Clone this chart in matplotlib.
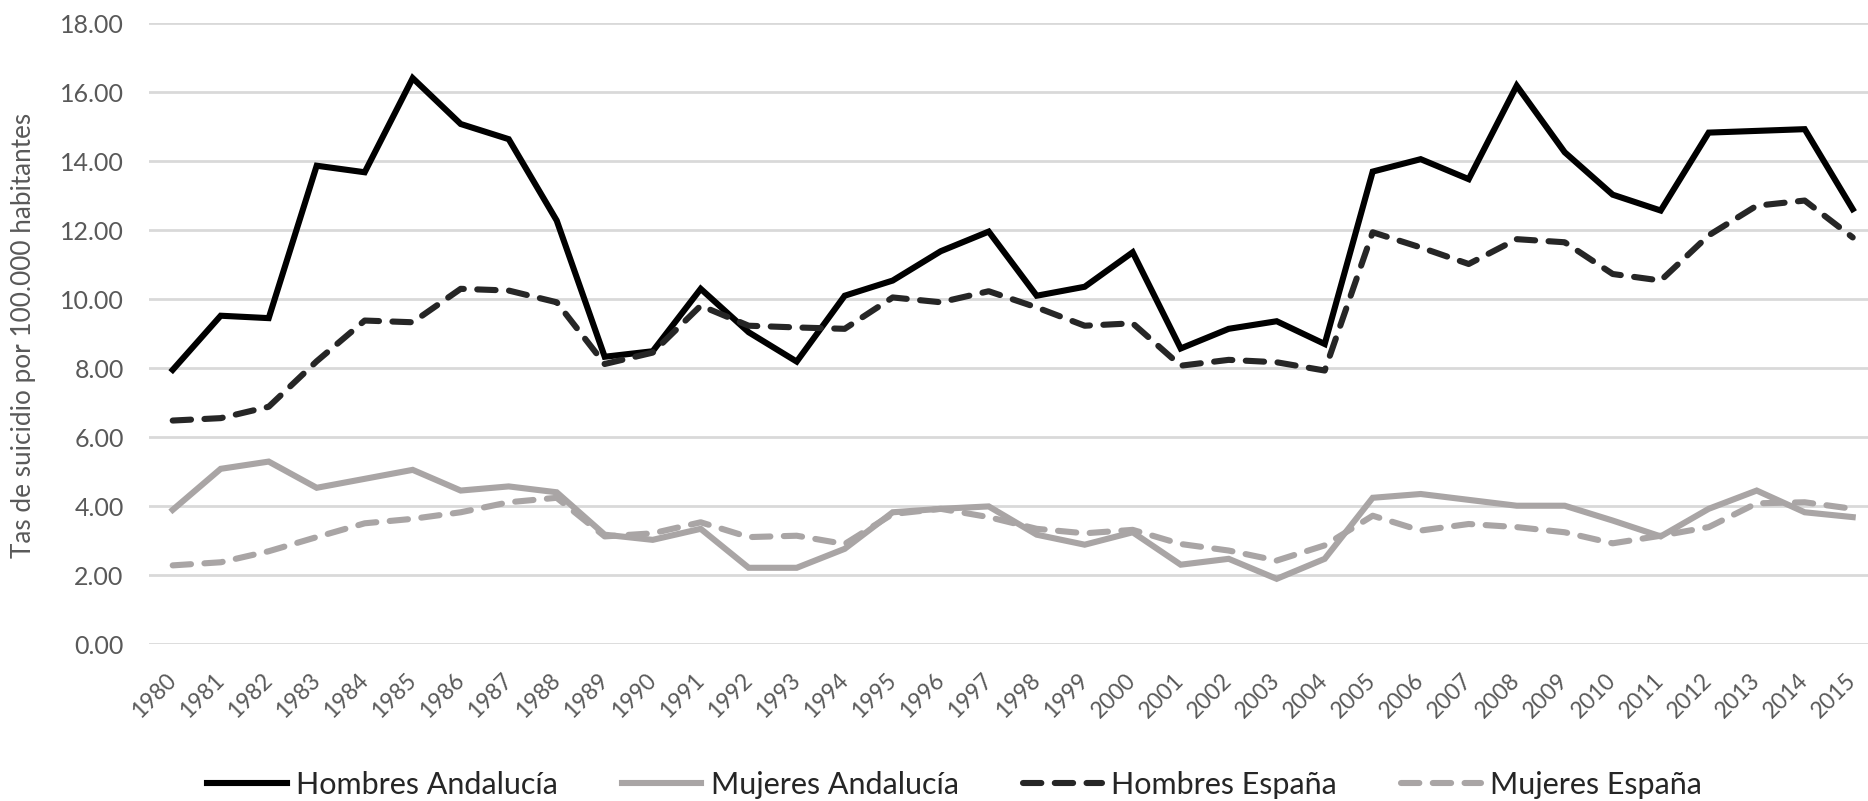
import matplotlib
matplotlib.use("Agg")
import matplotlib.pyplot as plt

plt.rcParams['font.family'] = ['Lato', 'DejaVu Sans']

years = list(range(1980, 2016))

hombres_andalucia = [7.95, 9.52, 9.45, 13.87, 13.68, 16.41, 15.08, 14.64, 12.28, 8.33,
                     8.49, 10.30, 9.04, 8.19, 10.10, 10.54, 11.39, 11.96, 10.10, 10.36,
                     11.36, 8.57, 9.14, 9.36, 8.70, 13.70, 14.06, 13.48, 16.19, 14.26,
                     13.03, 12.57, 14.83, 14.88, 14.93, 12.61]
mujeres_andalucia = [3.89, 5.08, 5.29, 4.53, 4.79, 5.05, 4.45, 4.57, 4.40, 3.17,
                     3.02, 3.34, 2.21, 2.21, 2.76, 3.82, 3.92, 3.99, 3.17, 2.88,
                     3.24, 2.30, 2.47, 1.89, 2.47, 4.24, 4.35, 4.18, 4.01, 4.01,
                     3.58, 3.12, 3.92, 4.45, 3.82, 3.68]
hombres_espana = [6.48, 6.55, 6.88, 8.20, 9.38, 9.33, 10.30, 10.25, 9.91, 8.12,
                  8.45, 9.81, 9.23, 9.18, 9.14, 10.05, 9.91, 10.23, 9.76, 9.23,
                  9.30, 8.07, 8.24, 8.17, 7.93, 11.94, 11.50, 11.02, 11.74, 11.65,
                  10.73, 10.54, 11.85, 12.71, 12.86, 11.79]
mujeres_espana = [2.28, 2.37, 2.69, 3.10, 3.50, 3.63, 3.82, 4.11, 4.24, 3.12,
                  3.21, 3.53, 3.10, 3.14, 2.90, 3.77, 3.92, 3.68, 3.34, 3.21,
                  3.31, 2.90, 2.71, 2.42, 2.86, 3.72, 3.29, 3.48, 3.39, 3.24,
                  2.92, 3.14, 3.39, 4.08, 4.11, 3.92]

series = [("Hombres Andalucía", hombres_andalucia, '#000000', '-'),
          ("Mujeres Andalucía", mujeres_andalucia, '#a9a5a5', '-'),
          ("Hombres España", hombres_espana, '#262626', '--'),
          ("Mujeres España", mujeres_espana, '#a9a5a5', '--')]

W, H = 1868, 801
fig = plt.figure(figsize=(W / 100, H / 100), dpi=100)
ax_left, ax_right, ax_top, ax_bot = 148.7, W, 23.3, 644
ax = fig.add_axes([ax_left / W, (H - ax_bot) / H,
                   (ax_right - ax_left) / W, (ax_bot - ax_top) / H])

x = list(range(len(years)))
lw = 4.4
handles = []
for name, vals, c, ls in series:
    line, = ax.plot(x, vals, color=c, lw=lw, solid_joinstyle='miter',
                    dash_capstyle='round', label=name)
    if ls == '--':
        line.set_dashes((3.0, 2.2))
    handles.append(line)

ax.set_ylim(0, 18)
ax.set_yticks(range(0, 19, 2))
ax.set_yticklabels(["%.2f" % v for v in range(0, 19, 2)])
ax.set_xlim(-0.5, -0.5 + (ax_right - ax_left) / 48.0)
ax.set_xticks(x)
ax.set_xticklabels([str(y) for y in years], rotation=45, ha='right',
                   va='center', rotation_mode='anchor')

ax.grid(axis='y', color='#d9d9d9', lw=2)
ax.set_axisbelow(True)
for s in ax.spines.values():
    s.set_visible(False)
ax.tick_params(axis='y', length=0, pad=18, labelsize=18, labelcolor='#595959')
ax.tick_params(axis='x', length=0, pad=24, labelsize=16.5, labelcolor='#595959')

fig.text(24 / W, (H - 335) / H, "Tas de suicidio por 100.000 habitantes",
         rotation=90, ha='center', va='center', fontsize=18.8, color='#595959')

leg = fig.legend(handles=handles, loc='center', bbox_to_anchor=(0.511, 0.02),
                 ncol=4, frameon=False, fontsize=22, handlelength=2.6,
                 handletextpad=0.3, columnspacing=2.1, labelcolor='#262626')

fig.savefig("out.png", dpi=100)
